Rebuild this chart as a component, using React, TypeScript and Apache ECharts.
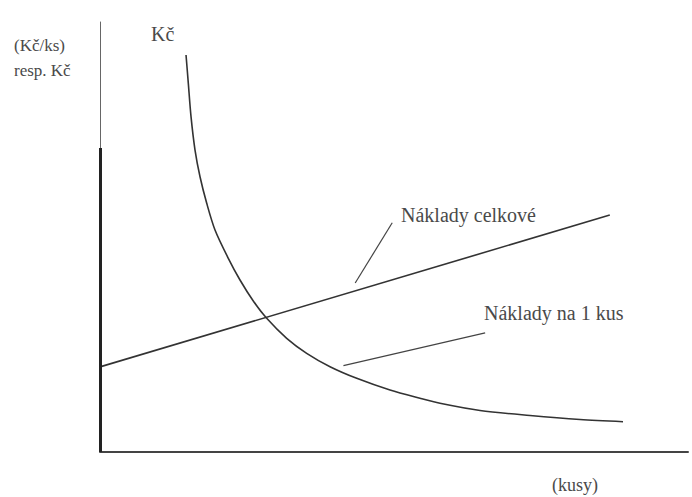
import React, { useEffect, useRef } from "react";
import * as echarts from "echarts";

// Total costs (straight line)
const totalX: number[] = [0, 86.7];
const totalY: number[] = [19.8, 55.1];

// Unit costs (hyperbola-like curve)
const unitX: number[] = [14.63, 15.02, 15.48, 16.16, 17.01, 18.15, 19.56, 21.82, 23.81, 26.07, 28.35, 31.75, 35.15, 39.12, 43.66, 49.32, 54.42, 57.82, 64.63, 73.13, 81.63, 88.95];
const unitY: number[] = [92.33, 85.74, 77.98, 70.23, 64.02, 57.84, 51.63, 45.05, 40.0, 35.12, 31.09, 26.44, 22.95, 19.84, 17.14, 14.42, 12.49, 11.33, 9.65, 8.49, 7.56, 7.05];

// Annotation pointers (data coordinates)
const pointerTotal: number[][] = [[49.7, 53.3], [43.4, 39.3]];
const pointerUnit: number[][] = [[65.5, 27.7], [41.4, 20.1]];

// Thick lower part of the vertical axis (data coordinates)
const axisThick: number[][] = [[0, 0], [0, 70.7]];

const labels = {
  unitAxis: "Kč",
  yName1: "(Kč/ks)",
  yName2: "resp. Kč",
  xName: "(kusy)",
  total: "Náklady celkové",
  unit: "Náklady na 1 kus",
};

export default function App() {
  const ref = useRef<HTMLDivElement>(null);
  useEffect(() => {
    document.body.style.margin = "0";
    const chart = echarts.init(ref.current!, null, { renderer: "svg" });
    const font = "Liberation Serif";
    const txtColor = "#4a4a4a";
    const lineColor = "#333";
    chart.setOption({
      animation: false,
      backgroundColor: "#fff",
      grid: { left: 100, right: 4, top: 22, bottom: 45 },
      xAxis: {
        type: "value",
        min: 0,
        max: 100,
        axisLine: { show: true, onZero: false, lineStyle: { color: "#444", width: 2 } },
        axisTick: { show: false },
        axisLabel: { show: false },
        splitLine: { show: false },
      },
      yAxis: {
        type: "value",
        min: 0,
        max: 100,
        axisLine: { show: true, onZero: false, lineStyle: { color: "#666", width: 1 } },
        axisTick: { show: false },
        axisLabel: { show: false },
        splitLine: { show: false },
      },
      series: [
        {
          type: "line",
          clip: false,
          data: totalX.map((x, i) => [x, totalY[i]]),
          showSymbol: false,
          lineStyle: { color: lineColor, width: 1.6 },
          markLine: {
            silent: true,
            symbol: ["none", "none"],
            label: { show: false },
            lineStyle: { color: "#222", width: 3, type: "solid" },
            data: [[{ coord: axisThick[0] }, { coord: axisThick[1] }]],
          },
        },
        {
          type: "line",
          clip: false,
          data: unitX.map((x, i) => [x, unitY[i]]),
          smooth: 0.3,
          showSymbol: false,
          lineStyle: { color: lineColor, width: 1.6 },
          markLine: {
            silent: true,
            symbol: ["none", "none"],
            label: { show: false },
            lineStyle: { color: "#444", width: 1.2, type: "solid" },
            data: [
              [{ coord: pointerTotal[0] }, { coord: pointerTotal[1] }],
              [{ coord: pointerUnit[0] }, { coord: pointerUnit[1] }],
            ],
          },
        },
      ],
      graphic: [
        { type: "text", left: 151, top: 24, style: { text: labels.unitAxis, font: `20px ${font}`, fill: txtColor } },
        { type: "text", left: 14, top: 37, style: { text: labels.yName1, font: `17px ${font}`, fill: txtColor } },
        { type: "text", left: 14, top: 62, style: { text: labels.yName2, font: `17px ${font}`, fill: txtColor } },
        { type: "text", left: 552, top: 476, style: { text: labels.xName, font: `18px ${font}`, fill: txtColor } },
        { type: "text", left: 401, top: 205, style: { text: labels.total, font: `20px ${font}`, fill: txtColor } },
        { type: "text", left: 484, top: 303, style: { text: labels.unit, font: `20px ${font}`, fill: txtColor } },
      ],
    });
    return () => chart.dispose();
  }, []);
  return <div ref={ref} style={{ width: 692, height: 497 }} />;
}
